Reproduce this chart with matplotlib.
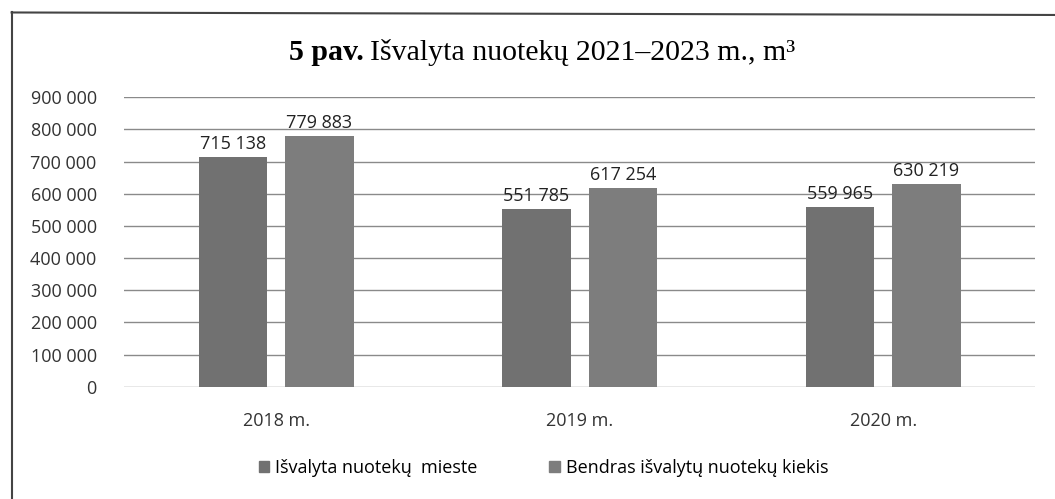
import matplotlib.pyplot as plt
import numpy as np
from matplotlib.lines import Line2D

# data
years = ['2018 m.', '2019 m.', '2020 m.']
city_cleaned = [715138, 551785, 559965]
total_cleaned = [779883, 617254, 630219]
series_names = ['Išvalyta nuotekų  mieste', 'Bendras išvalytų nuotekų kiekis']
y_ticks = [0, 100000, 200000, 300000, 400000, 500000, 600000, 700000, 800000, 900000]

plt.rcParams['font.family'] = ['Open Sans', 'DejaVu Sans']

fig = plt.figure(figsize=(10.55, 4.99), dpi=100)
ax = fig.add_axes([0.118, 0.225, 0.863, 0.58])

x = np.arange(len(years))
w = 0.225
gap = 0.06
b1 = ax.bar(x - (w + gap) / 2, city_cleaned, w, color='#717171', zorder=3)
b2 = ax.bar(x + (w + gap) / 2, total_cleaned, w, color='#7d7d7d', zorder=3)

def fmt(v):
    return f'{v:,}'.replace(',', ' ')

for bars in (b1, b2):
    for r in bars:
        ax.text(r.get_x() + r.get_width() / 2, r.get_height() + 12000, fmt(int(r.get_height())),
                ha='center', va='bottom', fontsize=13, color='#222222')

ax.set_ylim(0, 900000)
ax.set_xlim(-0.5, 2.5)
ax.set_yticks(y_ticks)
ax.set_yticklabels([fmt(t) for t in y_ticks], fontsize=13, color='#333333')
ax.set_xticks(x)
ax.set_xticklabels(years, fontsize=13, color='#333333')
ax.tick_params(axis='both', length=0)
ax.tick_params(axis='x', pad=18)
ax.tick_params(axis='y', pad=20)
ax.yaxis.grid(True, color='#8a8a8a', linewidth=1.0, zorder=0)
for s in ax.spines.values():
    s.set_visible(False)

fig.text(0.345, 0.895, '5 pav.', fontsize=21.5, ha='right', va='center',
         family='Liberation Serif', weight='bold')
fig.text(0.351, 0.895, 'Išvalyta nuotekų 2021–2023 m., m³', fontsize=21.5, ha='left', va='center',
         family='Liberation Serif')

handles = [plt.Rectangle((0, 0), 1, 1, color='#717171'), plt.Rectangle((0, 0), 1, 1, color='#7d7d7d')]
fig.legend(handles, series_names, loc='center', bbox_to_anchor=(0.515, 0.062), ncol=2, frameon=False,
           fontsize=13, handlelength=0.6, handleheight=0.6, handletextpad=0.3, columnspacing=4.0)

# scanned frame around the chart
fig.add_artist(Line2D([0.011, 1.0], [0.975, 0.97], color='#444444', linewidth=1.5, transform=fig.transFigure))
fig.add_artist(Line2D([0.011, 0.011], [0.975, 0.0], color='#444444', linewidth=1.5, transform=fig.transFigure))

fig.savefig('out.png', dpi=100, facecolor='white')
